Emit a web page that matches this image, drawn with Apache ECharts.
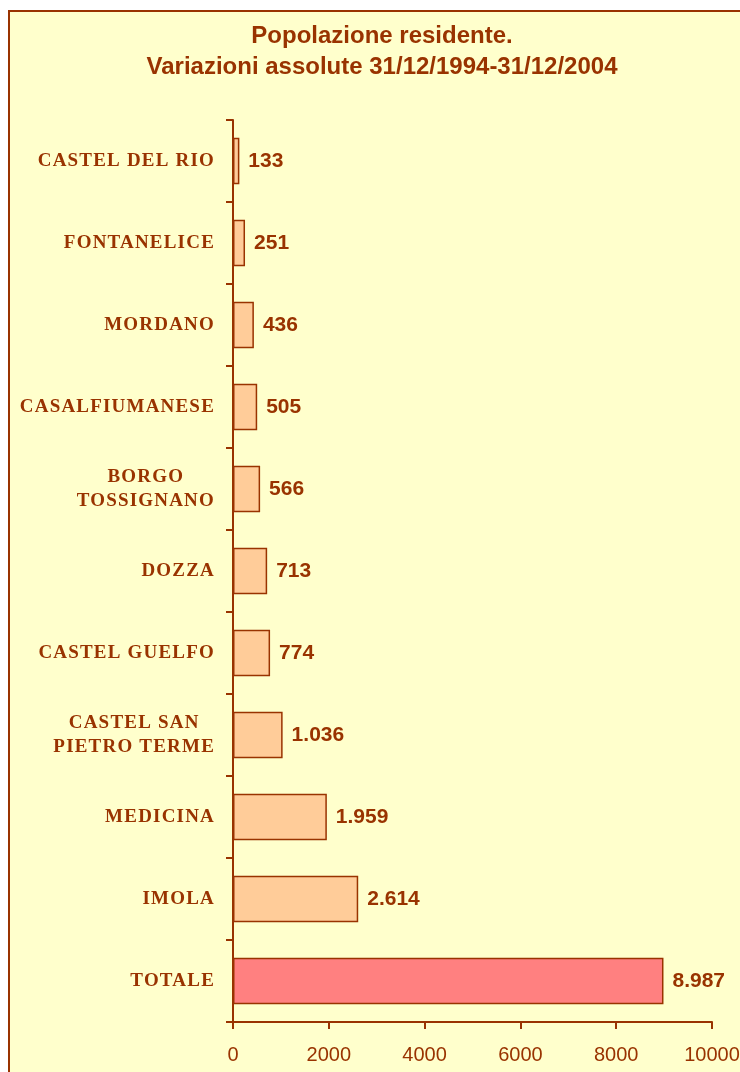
<!DOCTYPE html>
<html><head><meta charset="utf-8">
<script src="https://cdn.jsdelivr.net/npm/echarts@6/dist/echarts.min.js"></script>
<style>
html,body{margin:0;padding:0;background:#ffffff;width:740px;height:1072px;overflow:hidden}
#frame{position:absolute;left:8px;top:10px;width:800px;height:1100px;background:#FFFFCC;border:2px solid #993300;}
#chart{position:absolute;left:0;top:0;width:740px;height:1072px}
</style></head><body>
<div id="frame"></div><div id="chart"></div>
<script>
// ---- data ----
const titleLines = ['Popolazione residente.', 'Variazioni assolute 31/12/1994-31/12/2004'];
const categories = ['CASTEL DEL RIO', 'FONTANELICE', 'MORDANO', 'CASALFIUMANESE', 'BORGO\nTOSSIGNANO',
  'DOZZA', 'CASTEL GUELFO', 'CASTEL SAN\nPIETRO TERME', 'MEDICINA', 'IMOLA', 'TOTALE'];
const values = [133, 251, 436, 505, 566, 713, 774, 1036, 1959, 2614, 8987];
const xTickValues = [0, 2000, 4000, 6000, 8000, 10000];
const highlightCategory = 'TOTALE';

// ---- styles ----
const BROWN = '#993300';
const SANS = "'Liberation Sans', Arial, sans-serif";
const SERIF = "'Liberation Serif', 'Times New Roman', serif";
const CAT_SIZE = 19;
const LS = 1.2; // letter spacing for category labels

// letter spacing for serif labels only (canvas letterSpacing)
const proto = CanvasRenderingContext2D.prototype;
const origFill = proto.fillText;
proto.fillText = function (t, x, y, m) {
  const args = m === undefined ? [t, x, y] : [t, x, y, m];
  if (this.font && this.font.indexOf('Liberation Serif') >= 0 && 'letterSpacing' in this) {
    this.save();
    this.letterSpacing = LS + 'px';
    origFill.apply(this, args);
    this.restore();
  } else {
    origFill.apply(this, args);
  }
};
const mctx = document.createElement('canvas').getContext('2d');
function blockWidth(text) {
  mctx.save();
  mctx.font = 'bold ' + CAT_SIZE + 'px ' + SERIF;
  if ('letterSpacing' in mctx) mctx.letterSpacing = LS + 'px';
  const w = Math.max(...text.split('\n').map(s => mctx.measureText(s).width));
  mctx.restore();
  return w;
}
function fmt(v) { return String(v).replace(/\B(?=(\d{3})+(?!\d))/g, '.'); }

const yData = categories.map(c => c.indexOf('\n') >= 0
  ? { value: c, textStyle: { align: 'center', padding: [0, blockWidth(c), 0, 0] } }
  : c);

const chart = echarts.init(document.getElementById('chart'), null, { renderer: 'canvas' });
chart.setOption({
  backgroundColor: 'transparent',
  animation: false,
  title: {
    text: titleLines.join('\n'), left: 377, top: 16, textAlign: 'center',
    textStyle: { fontFamily: SANS, fontSize: 24, fontWeight: 'bold', color: BROWN, lineHeight: 31 }
  },
  grid: { left: 233, right: 28, top: 120, bottom: 50, outerBoundsMode: 'none', containLabel: false },
  xAxis: {
    type: 'value',
    min: xTickValues[0], max: xTickValues[xTickValues.length - 1],
    interval: xTickValues[1] - xTickValues[0],
    axisLine: { show: true, lineStyle: { color: BROWN, width: 2 } },
    axisTick: { show: true, length: 7, lineStyle: { color: BROWN, width: 2 } },
    splitLine: { show: false },
    axisLabel: { color: BROWN, fontFamily: SANS, fontSize: 20, margin: 23, showMaxLabel: true, hideOverlap: false,
      formatter: v => String(v) }
  },
  yAxis: {
    type: 'category', inverse: true, data: yData,
    axisLine: { show: true, lineStyle: { color: BROWN, width: 2 } },
    axisTick: { show: true, length: 7, lineStyle: { color: BROWN, width: 2 } },
    axisLabel: { interval: 0, margin: 18, color: BROWN, fontFamily: SERIF, fontWeight: 'bold', fontSize: CAT_SIZE, lineHeight: 24 }
  },
  series: [{
    type: 'bar', data: values, barCategoryGap: '43%',
    itemStyle: {
      color: p => p.name === highlightCategory ? '#FF8080' : '#FFCC99',
      borderColor: BROWN, borderWidth: 1.5
    },
    label: {
      show: true, position: 'right', distance: 9, color: BROWN,
      fontFamily: SANS, fontWeight: 'bold', fontSize: 21,
      formatter: p => fmt(p.value)
    }
  }]
});
</script>
</body></html>
